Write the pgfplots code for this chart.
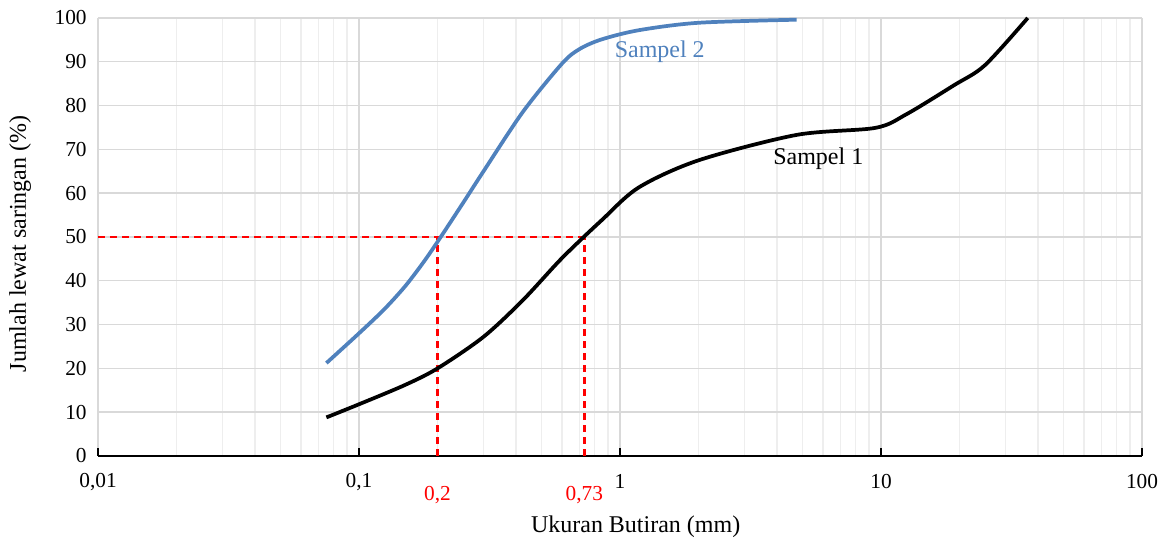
\documentclass[border=0pt]{standalone}
\usepackage{pgfplots}
\pgfplotsset{compat=1.18}
\usepackage{fontspec}
\setmainfont{Liberation Serif}
\definecolor{sblue}{RGB}{79,129,189}
\definecolor{gmaj}{RGB}{217,217,217}
\definecolor{gmin}{RGB}{238,238,238}

\begin{document}
\begin{tikzpicture}
\begin{axis}[
  xmode=log,
  scale only axis,
  width=783pt, height=328.5pt,
  xmin=0.01, xmax=100,
  ymin=0, ymax=100,
  axis x line=bottom,
  axis y line=left,
  x axis line style={black, line width=1.6pt, -},
  y axis line style={draw=none},
  tick align=inside,
  xtick={0.01,0.1,1,10,100},
  xticklabels={{0,01},{0,1},1,10,100},
  minor xtick={0.02,0.03,0.04,0.05,0.06,0.07,0.08,0.09,
               0.2,0.3,0.4,0.5,0.6,0.7,0.8,0.9,
               2,3,4,5,6,7,8,9,
               20,30,40,50,60,70,80,90},
  ytick={0,10,...,100},
  major tick length=6pt,
  minor tick length=0pt,
  xtick style={black, line width=1.2pt},
  ytick style={draw=none},
  grid=both,
  major grid style={gmaj, line width=1pt},
  minor grid style={gmin, line width=1pt},
  /pgf/number format/assume math mode=true,
  tick label style={font=\fontsize{16}{19}\selectfont},
  xticklabel style={anchor=center, yshift=-19.5pt},
  yticklabel style={anchor=east, xshift=-5pt},
  xlabel={Ukuran Butiran (mm)},
  ylabel={Jumlah lewat saringan (\%)},
  label style={font=\fontsize{18}{21}\selectfont},
  xlabel style={at={(rel axis cs:0.515,-0.162)}, anchor=center},
  ylabel style={at={(rel axis cs:-0.0747,0.484)}, anchor=center},
  clip=false,
]
% garis bantu D50
\addplot[red, line width=1.8pt, dash pattern=on 5.5pt off 3.5pt] coordinates {(0.01,50)(0.73,50)};
\addplot[red, line width=1.8pt, dash pattern=on 5.5pt off 3.5pt] coordinates {(0.2,0)(0.2,50)};
\addplot[red, line width=1.8pt, dash pattern=on 5.5pt off 3.5pt] coordinates {(0.73,0)(0.73,50)};

% Sampel 1
\addplot[black, line width=2.8pt, smooth, tension=0.5] coordinates {
  (0.075,8.8)(0.1,11.8)(0.15,16.2)(0.2,20)(0.3,27.2)(0.425,35.6)
  (0.6,45.2)(0.85,53.8)(1.18,61.3)(2,67.5)(4.75,73.3)(9.5,74.9)
  (12.5,78)(19,84.6)(25,89.2)(36.5,100)
};
% Sampel 2
\addplot[sblue, line width=2.8pt, smooth, tension=0.5] coordinates {
  (0.075,21.2)(0.1,28)(0.125,33.5)(0.15,38.7)(0.175,43.9)(0.2,48.9)
  (0.25,57.7)(0.3,65)(0.425,78.6)(0.6,89.6)(0.7,92.9)(0.85,95.1)
  (1.18,97.2)(2,98.9)(4.75,99.6)
};

\node[sblue, font=\fontsize{18}{21}\selectfont] at (axis cs:1.42,92.4) {Sampel 2};
\node[black, font=\fontsize{18}{21}\selectfont] at (axis cs:5.75,67.8) {Sampel 1};
\node[red, font=\fontsize{16}{19}\selectfont, anchor=center, yshift=-29.5pt] at (axis cs:0.2,0) {0,2};
\node[red, font=\fontsize{16}{19}\selectfont, anchor=center, yshift=-29.5pt] at (axis cs:0.73,0) {0,73};
% ruang tepi seperti gambar asli
\path (rel axis cs:-0.0939,1.041) (rel axis cs:1.023,-0.192);
\end{axis}
\end{tikzpicture}
\end{document}
